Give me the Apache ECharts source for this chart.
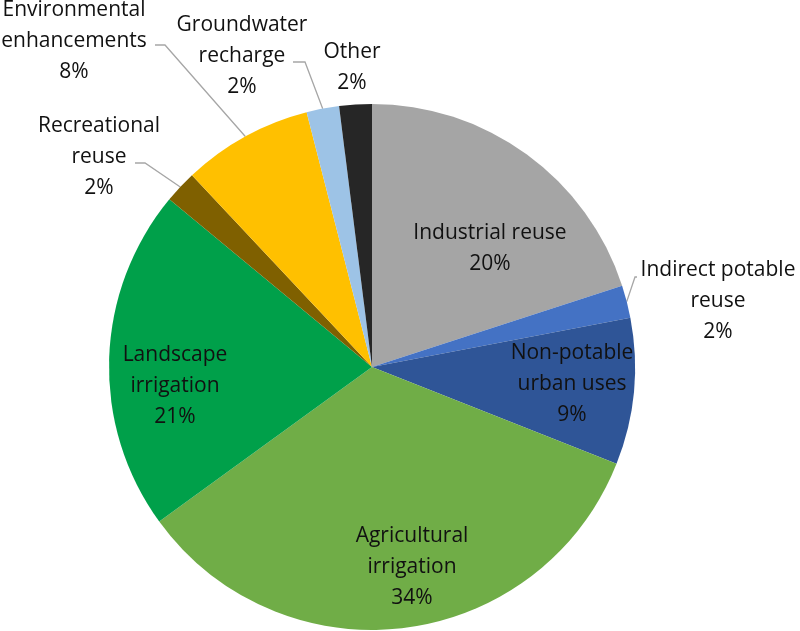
<!DOCTYPE html>
<html>
<head>
<meta charset="utf-8">
<script src="https://cdn.jsdelivr.net/npm/echarts@6/dist/echarts.min.js"></script>
<style>
  html, body { margin: 0; padding: 0; background: #fff; }
  #chart { width: 800px; height: 631px; }
</style>
</head>
<body>
<div id="chart"></div>
<script>
// slices, clockwise from 12 o'clock
var names = ['Industrial reuse', 'Indirect potable reuse', 'Non-potable urban uses',
    'Agricultural irrigation', 'Landscape irrigation', 'Recreational reuse',
    'Environmental enhancements', 'Groundwater recharge', 'Other'];
var labelNames = ['Industrial reuse', 'Indirect potable\nreuse', 'Non-potable\nurban uses',
    'Agricultural\nirrigation', 'Landscape\nirrigation', 'Recreational\nreuse',
    'Environmental\nenhancements', 'Groundwater\nrecharge', 'Other'];
var values = [20, 2, 9, 34, 21, 2, 8, 2, 2];
var colors = ['#A5A5A5', '#4472C4', '#2F5597', '#70AD47', '#00A04A',
    '#7F6000', '#FFC000', '#9DC3E6', '#262626'];
var outside = [false, true, false, false, false, true, true, true, true];

// where each label sits (text centre) and the elbow of its leader line
var labelPos = [
    [490, 249], [718, 301], [572, 384], [412, 567], [175, 386],
    [99, 157], [74, 41], [242, 56], [352, 68]
];
var elbows = [null, [[635, 277], [637, 277]], null, null, null,
    [[145, 163], [135, 163]], [[165, 45], [155, 45]], [[305, 62], [293, 62]], null];

var total = values.reduce(function (a, b) { return a + b; }, 0);

var myChart = echarts.init(document.getElementById('chart'));

var data = names.map(function (n, i) {
    return {
        name: n,
        value: values[i],
        itemStyle: { color: colors[i] },
        label: { position: outside[i] ? 'outside' : 'inside' },
        labelLine: { show: !!elbows[i] }
    };
});

var option = {
    animation: false,
    series: [{
        type: 'pie',
        center: [372, 367],
        radius: 263,
        startAngle: 90,
        clockwise: true,
        avoidLabelOverlap: false,
        itemStyle: { borderWidth: 0 },
        label: {
            show: true,
            fontFamily: 'Open Sans',
            fontSize: 21,
            lineHeight: 31,
            color: '#111',
            align: 'center',
            formatter: function (p) {
                return labelNames[p.dataIndex] + '\n' + Math.round(p.value / total * 100) + '%';
            }
        },
        labelLine: {
            lineStyle: { color: '#A6A6A6', width: 1.3 },
            length: 20,
            length2: 10
        },
        labelLayout: function (p) {
            var i = p.dataIndex;
            var res = {
                x: labelPos[i][0],
                y: labelPos[i][1],
                align: 'center',
                verticalAlign: 'middle'
            };
            if (elbows[i] && p.labelLinePoints) {
                res.labelLinePoints = [p.labelLinePoints[0], elbows[i][0], elbows[i][1]];
            }
            return res;
        },
        data: data
    }]
};

myChart.setOption(option);
</script>
</body>
</html>
